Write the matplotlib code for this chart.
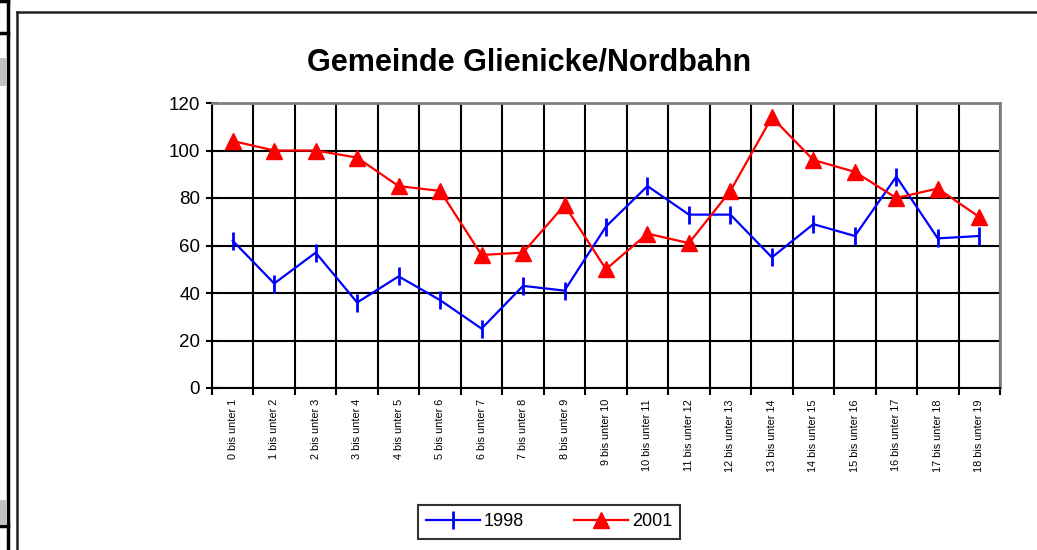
import matplotlib.pyplot as plt
from matplotlib.lines import Line2D
from matplotlib.patches import Rectangle

plt.rcParams['font.family'] = ['Liberation Sans', 'DejaVu Sans']

categories = ["%d bis unter %d" % (i, i + 1) for i in range(19)]
values_1998 = [62, 44, 57, 36, 47, 37, 25, 43, 41, 68, 85, 73, 73, 55, 69, 64, 89, 63, 64]
values_2001 = [104, 100, 100, 97, 85, 83, 56, 57, 77, 50, 65, 61, 83, 114, 96, 91, 80, 84, 72]
title = "Gemeinde Glienicke/Nordbahn"

W, H = 1037, 550
fig = plt.figure(figsize=(W / 100, H / 100), dpi=100)

def px(x0, y0, x1, y1):
    # pixel box -> figure fraction
    return [x0 / W, 1 - y1 / H, (x1 - x0) / W, (y1 - y0) / H]

# bits of the neighbouring frame on the left
fig.add_artist(Line2D([8 / W, 8 / W], [0, 1], color="black", lw=2.5))
fig.add_artist(Line2D([0, 8 / W], [1 - 1 / H, 1 - 1 / H], color="black", lw=2.5))
fig.add_artist(Line2D([0, 8 / W], [1 - 33 / H, 1 - 33 / H], color="black", lw=2.5))
fig.add_artist(Line2D([0, 8 / W], [1 - 526 / H, 1 - 526 / H], color="black", lw=2.5))
fig.add_artist(Rectangle((0, 1 - 86 / H), 6 / W, 28 / H, color="#c0c0c0", lw=0))
fig.add_artist(Rectangle((0, 1 - 524 / H), 6 / W, 24 / H, color="#c0c0c0", lw=0))

# chart frame
fig.add_artist(Line2D([17 / W, 17 / W], [0, 1 - 12 / H], color="#202020", lw=1.8))
fig.add_artist(Line2D([17 / W, 1], [1 - 12 / H, 1 - 12 / H], color="#202020", lw=1.8))

ax = fig.add_axes(px(212, 103, 1000, 388))
x = range(len(categories))

ax.plot(x, values_1998, color="#0000ff", lw=1.6, marker="|", markersize=13,
        markeredgewidth=2, label="1998")
ax.plot(x, values_2001, color="#ff0000", lw=1.6, marker="^", markersize=12,
        markeredgecolor="#ff0000", label="2001")

ax.set_xlim(-0.5, len(categories) - 0.5)
ax.set_ylim(0, 120)
ax.set_yticks(range(0, 121, 20))
ax.set_xticks(list(x))
ax.set_xticklabels(categories, rotation=90, fontsize=7.8)
ax.set_xticks([i - 0.5 for i in range(len(categories) + 1)], minor=True)
ax.tick_params(axis="x", which="major", length=0, pad=8)
ax.tick_params(axis="x", which="minor", length=5, width=1.5, direction="out")
ax.tick_params(axis="y", length=9, width=1.5, direction="inout", labelsize=13.5, pad=4)
ax.grid(True, which="major", axis="y", color="black", lw=1.5)
ax.grid(True, which="minor", axis="x", color="black", lw=1.5)
ax.set_axisbelow(True)
for s in ["left", "bottom"]:
    ax.spines[s].set_linewidth(1.5)
for s in ["top", "right"]:
    ax.spines[s].set_color("#808080")
    ax.spines[s].set_linewidth(2)

fig.text(529 / W, 1 - 62 / H, title, ha="center", va="center",
         fontsize=22, fontweight="bold")

leg = fig.legend(loc="center", bbox_to_anchor=(549 / W, 1 - 522 / H), ncol=2,
                 frameon=True, fancybox=False, edgecolor="black", fontsize=13,
                 handlelength=3, handletextpad=0.2, columnspacing=2.8, borderpad=0.45)
leg.get_frame().set_linewidth(1.5)

fig.savefig("out.png", dpi=100)
